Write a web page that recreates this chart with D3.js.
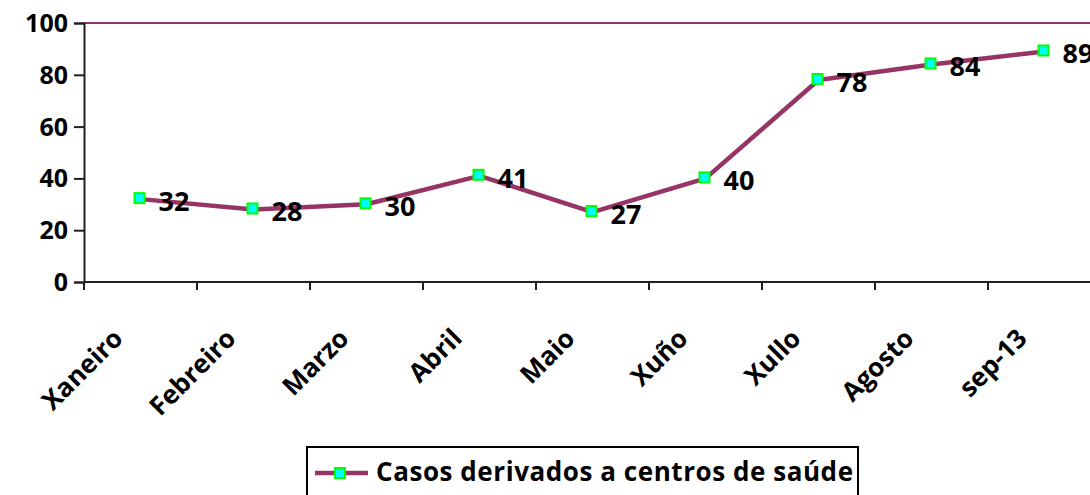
<!DOCTYPE html>
<html>
<head>
<meta charset="utf-8">
<script src="https://cdn.jsdelivr.net/npm/d3@7"></script>
<style>
  body { margin: 0; background: #fff; }
  svg { display: block; font-family: "Open Sans", Lato, sans-serif; font-weight: bold; }
</style>
</head>
<body>
<div id="chart"></div>
<script>
// chart data
var months = ["Xaneiro", "Febreiro", "Marzo", "Abril", "Maio", "Xuño", "Xullo", "Agosto", "sep-13"];
var casos = [32, 28, 30, 41, 27, 40, 78, 84, 89];
var yTicks = [0, 20, 40, 60, 80, 100];
var seriesName = "Casos derivados a centros de saúde";

var svgWidth = 1090;
var svgHeight = 495;

var margin = { top: 23, left: 84 };
var width = 1017;   // runs off the right edge like the original
var height = 259;

var lineColor = "#963465";
var fontFam = "'Open Sans', Lato, sans-serif";

var svg = d3.select("#chart")
  .append("svg")
  .attr("width", svgWidth)
  .attr("height", svgHeight);

var chartGroup = svg.append("g")
  .attr("transform", `translate(${margin.left}, ${margin.top})`);

var x = d3.scaleBand().domain(months).range([0, width]);
var y = d3.scaleLinear().domain([0, 100]).range([height, 0]);

// top border of plot area
chartGroup.append("line")
  .attr("x1", 0).attr("x2", width)
  .attr("y1", y(100)).attr("y2", y(100))
  .attr("stroke", lineColor)
  .attr("stroke-width", 2);

// y axis
var yAxis = chartGroup.append("g")
  .call(d3.axisLeft(y).tickValues(yTicks).tickSize(10).tickPadding(6));
yAxis.select(".domain").attr("stroke", "#231f20").attr("stroke-width", 2);
yAxis.selectAll(".tick line").attr("stroke", "#231f20").attr("stroke-width", 2);
yAxis.selectAll("text")
  .attr("font-size", 25)
  .attr("font-family", fontFam)
  .attr("font-weight", "bold")
  .attr("dy", "0.34em")
  .attr("fill", "#000");

// x axis line
chartGroup.append("line")
  .attr("x1", 0).attr("x2", width)
  .attr("y1", height).attr("y2", height)
  .attr("stroke", "#231f20")
  .attr("stroke-width", 2);

// ticks at category boundaries
var bounds = months.map(d => x(d)).concat([width]);
chartGroup.selectAll(".xtick")
  .data(bounds)
  .enter()
  .append("line")
  .attr("class", "xtick")
  .attr("x1", d => d).attr("x2", d => d)
  .attr("y1", height).attr("y2", height + 8)
  .attr("stroke", "#231f20")
  .attr("stroke-width", 2);

// rotated month labels
chartGroup.selectAll(".xlabel")
  .data(months)
  .enter()
  .append("text")
  .attr("class", "xlabel")
  .attr("transform", d => `translate(${x(d) + x.bandwidth() / 2 - 16}, ${height + 58}) rotate(-45)`)
  .attr("text-anchor", "end")
  .attr("font-size", 26)
  .attr("fill", "#000")
  .text(d => d);

// the line
var line = d3.line()
  .x((d, i) => x(months[i]) + x.bandwidth() / 2)
  .y(d => y(d));

chartGroup.append("path")
  .datum(casos)
  .attr("d", line)
  .attr("fill", "none")
  .attr("stroke", lineColor)
  .attr("stroke-width", 4.5)
  .attr("stroke-linejoin", "round");

// markers
chartGroup.selectAll(".pt")
  .data(casos)
  .enter()
  .append("rect")
  .attr("class", "pt")
  .attr("x", (d, i) => x(months[i]) + x.bandwidth() / 2 - 6)
  .attr("y", d => y(d) - 6)
  .attr("width", 10)
  .attr("height", 10)
  .attr("fill", "#00ffff")
  .attr("stroke", "#00ff00")
  .attr("stroke-width", 2);

// data labels
chartGroup.selectAll(".lbl")
  .data(casos)
  .enter()
  .append("text")
  .attr("class", "lbl")
  .attr("x", (d, i) => x(months[i]) + x.bandwidth() / 2 + 18)
  .attr("y", d => y(d) + 12)
  .attr("font-size", 27)
  .attr("fill", "#000")
  .text(d => d);

// legend
var legend = svg.append("g");
legend.append("rect")
  .attr("x", 307).attr("y", 447)
  .attr("width", 551).attr("height", 60)
  .attr("fill", "#fff")
  .attr("stroke", "#000")
  .attr("stroke-width", 2);
legend.append("line")
  .attr("x1", 315).attr("x2", 368)
  .attr("y1", 473).attr("y2", 473)
  .attr("stroke", lineColor)
  .attr("stroke-width", 4.5);
legend.append("rect")
  .attr("x", 335).attr("y", 468)
  .attr("width", 10).attr("height", 10)
  .attr("fill", "#00ffff")
  .attr("stroke", "#00ff00")
  .attr("stroke-width", 2);
legend.append("text")
  .attr("x", 376).attr("y", 481)
  .attr("font-size", 26)
  .attr("fill", "#000")
  .attr("textLength", 477)
  .attr("lengthAdjust", "spacing")
  .text(seriesName);
</script>
</body>
</html>
